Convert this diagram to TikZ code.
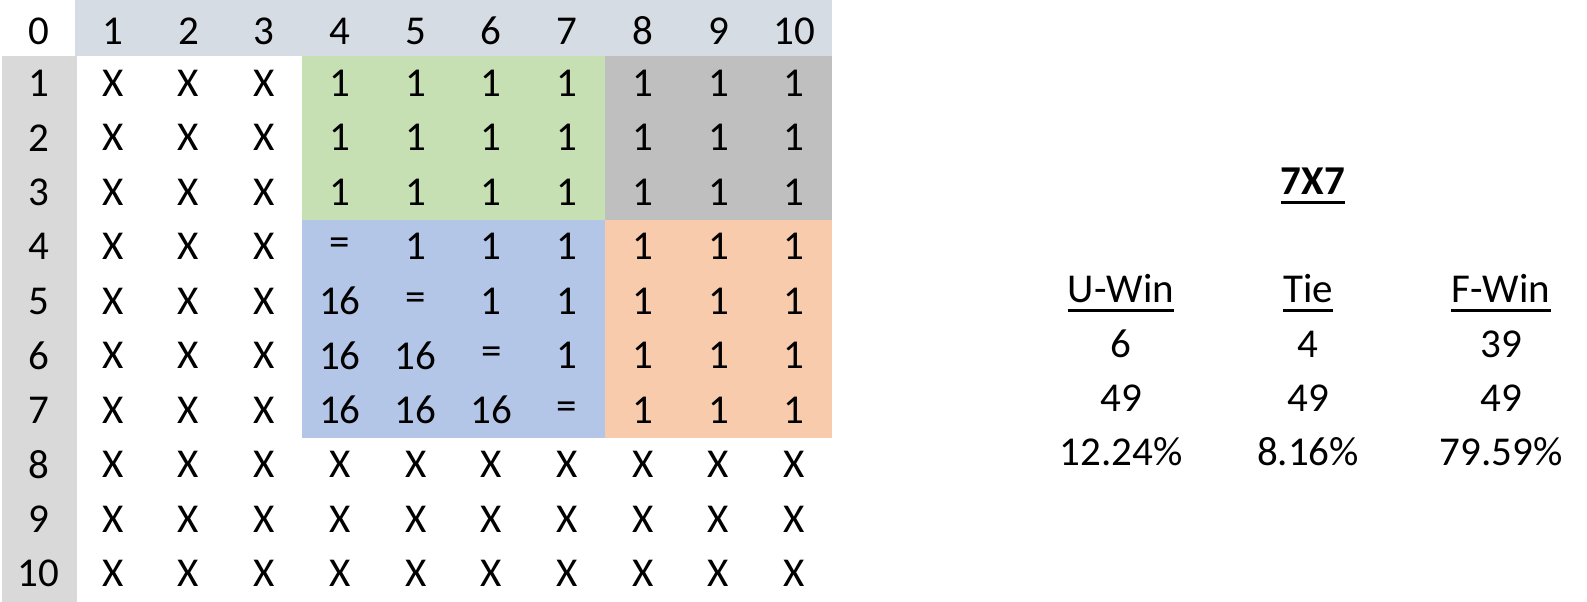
\documentclass[tikz,border=0pt]{standalone}
\usepackage{fontspec}
\setmainfont{Carlito}
\definecolor{hdrbg}{HTML}{D6DCE4}
\definecolor{lblbg}{HTML}{D9D9D9}
\definecolor{grn}{HTML}{C6E0B4}
\definecolor{gry}{HTML}{BFBFBF}
\definecolor{blu}{HTML}{B4C6E7}
\definecolor{org}{HTML}{F8CBAD}
\newcommand\cellval[2]{\ifnum#1>7 X\else\ifnum#2<4 X\else\ifnum#1<4 1\else\ifnum#2>7 1\else\ifnum#1=#2 =\else\ifnum#1>#2 16\else 1\fi\fi\fi\fi\fi\fi}
\begin{document}
\begin{tikzpicture}[x=1pt,y=-1pt,
  txt/.style={font=\fontsize{41}{41}\selectfont, inner sep=0pt, anchor=center},
  hd/.style={font=\fontsize{41}{41}\selectfont, inner sep=0pt, anchor=base},
  uline/.style={line width=3pt}]
\useasboundingbox (0,0) rectangle (1587,602);
\fill[white] (0,0) rectangle (1587,602);
% backgrounds
\fill[hdrbg] (75,0) rectangle (832,56);
\fill[lblbg] (2,56) rectangle (77,602);
\fill[grn] (302.1,56) rectangle (604.9,219.5);
\fill[gry] (604.9,56) rectangle (832,219.5);
\fill[blu] (302.1,219.5) rectangle (604.9,437.5);
\fill[org] (604.9,219.5) rectangle (832,437.5);
% header row
\node[txt] (h0) at (38.5,31) {0};
\foreach \c in {1,...,10}{
  \pgfmathsetmacro\cx{75+75.7*(\c-0.5)}
  \node[txt] (h\c) at (\cx,31) {\c};
}
% row labels
\foreach \r in {1,...,10}{
  \pgfmathsetmacro\cy{56+54.5*(\r-0.5)}
  \node[txt] (l\r) at (38.5,\cy) {\r};
}
% cells
\foreach \r in {1,...,10}{
  \foreach \c in {1,...,10}{
    \pgfmathsetmacro\cx{75+75.7*(\c-0.5)}
    \pgfmathsetmacro\cy{56+54.5*(\r-0.5)}
    \node[txt] (c-\r-\c) at (\cx,\cy) {\cellval{\r}{\c}};
  }
}
% summary
\node[hd, font=\fontsize{41}{41}\selectfont\bfseries] (title) at (1313,194) {7X7};
\draw[uline] ([yshift=-8.5pt]title.base west) -- ([yshift=-8.5pt]title.base east);
\node[hd] (uw) at (1121,302) {U-Win};
\node[hd] (tie) at (1308,302) {Tie};
\node[hd] (fw) at (1501,302) {F-Win};
\foreach \n in {uw,tie,fw}{
  \draw[uline] ([yshift=-8.5pt]\n.base west) -- ([yshift=-8.5pt]\n.base east);
}
\node[hd] (uw1) at (1121,357) {6};
\node[hd] (tie1) at (1308,357) {4};
\node[hd] (fw1) at (1501,357) {39};
\node[hd] (uw2) at (1121,411) {49};
\node[hd] (tie2) at (1308,411) {49};
\node[hd] (fw2) at (1501,411) {49};
\node[hd] (uw3) at (1121,465) {12.24\%};
\node[hd] (tie3) at (1308,465) {8.16\%};
\node[hd] (fw3) at (1501,465) {79.59\%};
\end{tikzpicture}
\end{document}
